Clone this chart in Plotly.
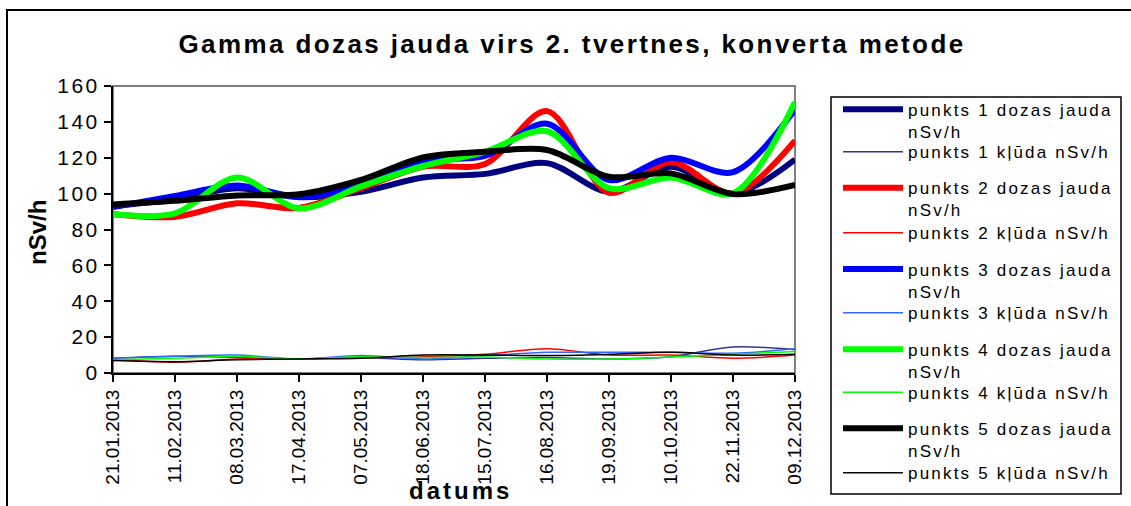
import plotly.graph_objects as go

dates = ["21.01.2013", "11.02.2013", "08.03.2013", "17.04.2013", "07.05.2013", "18.06.2013",
         "15.07.2013", "16.08.2013", "19.09.2013", "10.10.2013", "22.11.2013", "09.12.2013"]

p1_dose = [93, 97, 103, 98, 101, 109, 111, 117, 101, 115, 100, 119]
p1_err = [8.2, 9.3, 8.7, 7.8, 8.6, 7.4, 8.2, 8.6, 7.8, 9.1, 14.5, 13]
p2_dose = [88.5, 87, 94.6, 92, 103, 115, 116.5, 146, 100.5, 117.5, 100, 129.5]
p2_err = [7.8, 6.0, 7.8, 7.8, 8.6, 9.0, 10.4, 13.5, 10, 10, 8.2, 10]
p3_dose = [92.5, 98.7, 104.5, 98.3, 104.5, 118.3, 121, 139, 107.6, 120, 112, 147]
p3_err = [8.2, 9.3, 10, 7.8, 9.7, 7.8, 9.7, 11.5, 11.5, 11.5, 11, 13.5]
p4_dose = [88.5, 89, 109, 91.8, 104, 115.4, 123.3, 134.8, 103, 109, 100.2, 151]
p4_err = [7.4, 8.2, 9.3, 7.8, 9.1, 8.7, 8.9, 7.8, 7.8, 8.9, 10.4, 12]
p5_dose = [94, 96, 99, 99.6, 107.6, 120.2, 123.3, 124.3, 109.4, 111.3, 99.8, 104.8]
p5_err = [6.9, 6.3, 7.4, 7.8, 8.2, 10, 10, 9.7, 10.4, 11.5, 10, 10.4]

y_tick_vals = [0, 20, 40, 60, 80, 100, 120, 140, 160]

series = [
    ("punkts 1 dozas jauda", "nSv/h", p1_dose, "#000080", 6),
    ("punkts 1 kļūda nSv/h", None, p1_err, "#333399", 1.5),
    ("punkts 2 dozas jauda", "nSv/h", p2_dose, "#FF0000", 6),
    ("punkts 2 kļūda nSv/h", None, p2_err, "#FF0000", 1.5),
    ("punkts 3 dozas jauda", "nSv/h", p3_dose, "#0000FF", 6),
    ("punkts 3 kļūda nSv/h", None, p3_err, "#3366FF", 1.5),
    ("punkts 4 dozas jauda", "nSv/h", p4_dose, "#00FF00", 6),
    ("punkts 4 kļūda nSv/h", None, p4_err, "#00FF00", 1.5),
    ("punkts 5 dozas jauda", "nSv/h", p5_dose, "#000000", 6),
    ("punkts 5 kļūda nSv/h", None, p5_err, "#000000", 1.5),
]

# pixel geometry
W, H = 1131, 506
L, R, T, B = 113, 795, 86, 373
pw, ph = R - L, B - T


def px(x):
    return (x - L) / pw


def py(y):
    return (B - y) / ph


def sp(t, ls=2.2):
    return '<span style="letter-spacing:%spx">%s</span>' % (ls, t)


legend_sym_y = [109.3, 151.7, 187.7, 232.7, 269, 312.7, 349.3, 392.3, 428.3, 472.7]

fig = go.Figure()
layout_legends = {}
for i, (n1, n2, vals, col, lw) in enumerate(series):
    name = sp(n1) + ("<br>" + sp(n2) if n2 else "")
    lname = "legend" if i == 0 else "legend%d" % (i + 1)
    fig.add_trace(go.Scatter(
        x=dates, y=vals, mode="lines", name=name,
        line=dict(color=col, width=lw, shape="spline", smoothing=0.9),
        legend=lname,
    ))
    layout_legends[lname] = dict(
        x=838 / W, y=1 - (legend_sym_y[i] - 17.5) / H, xanchor="left", yanchor="top",
        xref="container", yref="container", bgcolor="rgba(0,0,0,0)", borderwidth=0,
        font=dict(family="Liberation Sans, Arial", size=17, color="black"),
        itemwidth=60, valign="top",
    )

fig.update_layout(**layout_legends)

fig.update_layout(
    width=W, height=H,
    margin=dict(l=L, r=W - R, t=T, b=H - B, pad=0, autoexpand=False),
    paper_bgcolor="white", plot_bgcolor="white",
    showlegend=True,
    font=dict(family="Liberation Sans, Arial", color="black"),
    title=dict(
        text="<b>" + sp("Gamma dozas jauda virs 2. tvertnes, konverta metode", 2.4) + "</b>",
        x=572 / W, xref="container", xanchor="center",
        y=1 - 44 / H, yref="container", yanchor="middle",
        font=dict(size=26, family="Liberation Sans, Arial", color="black"),
    ),
    xaxis=dict(
        type="category", range=[0, len(dates) - 1],
        showline=True, linecolor="black", linewidth=2,
        ticks="outside", ticklen=7, tickwidth=2, tickcolor="black",
        tickangle=-90, tickfont=dict(size=19, color="black"),
        showgrid=False, zeroline=False,
    ),
    yaxis=dict(
        range=[0, 160], tickvals=y_tick_vals,
        ticktext=[sp(str(v), 2.5) for v in y_tick_vals],
        showline=True, linecolor="black", linewidth=2,
        ticks="outside", ticklen=7, tickwidth=2, tickcolor="black",
        tickfont=dict(size=21, color="black"),
        showgrid=False, zeroline=False,
    ),
    xaxis2=dict(
        overlaying="x", anchor="y", range=[0, len(dates) - 1],
        tickvals=list(range(len(dates))), ticks="inside", ticklen=7, tickwidth=2,
        tickcolor="black", showticklabels=False, showline=False, showgrid=False,
        zeroline=False,
    ),
    yaxis2=dict(
        overlaying="y", anchor="x", side="left", range=[0, 160], tickvals=y_tick_vals,
        ticks="inside", ticklen=7, tickwidth=2, tickcolor="black",
        showticklabels=False, showline=False, showgrid=False, zeroline=False,
    ),
    shapes=[
        # plot-area border (grey)
        dict(type="rect", xref="paper", yref="paper", x0=0, x1=1, y0=0, y1=1,
             line=dict(color="#808080", width=2), layer="below"),
        # outer chart frame
        dict(type="rect", xref="paper", yref="paper", x0=px(7), x1=px(1136),
             y0=py(520), y1=py(10), line=dict(color="black", width=2)),
        # legend frame
        dict(type="rect", xref="paper", yref="paper", x0=px(831), x1=px(1121),
             y0=py(494), y1=py(97), line=dict(color="black", width=1.5)),
    ],
    annotations=[
        dict(text="<b>nSv/h</b>", x=px(37), y=py(233), xref="paper", yref="paper",
             textangle=-90, showarrow=False, xanchor="center", yanchor="middle",
             font=dict(size=24, color="black")),
        dict(text="<b>" + sp("datums", 3) + "</b>", x=px(460), y=py(490), xref="paper",
             yref="paper", showarrow=False, xanchor="center", yanchor="middle",
             font=dict(size=24, color="black")),
    ],
)

fig.write_html("out.html", config={"displayModeBar": False},
               post_script="document.body.style.margin='0px';document.body.style.overflow='hidden';")
